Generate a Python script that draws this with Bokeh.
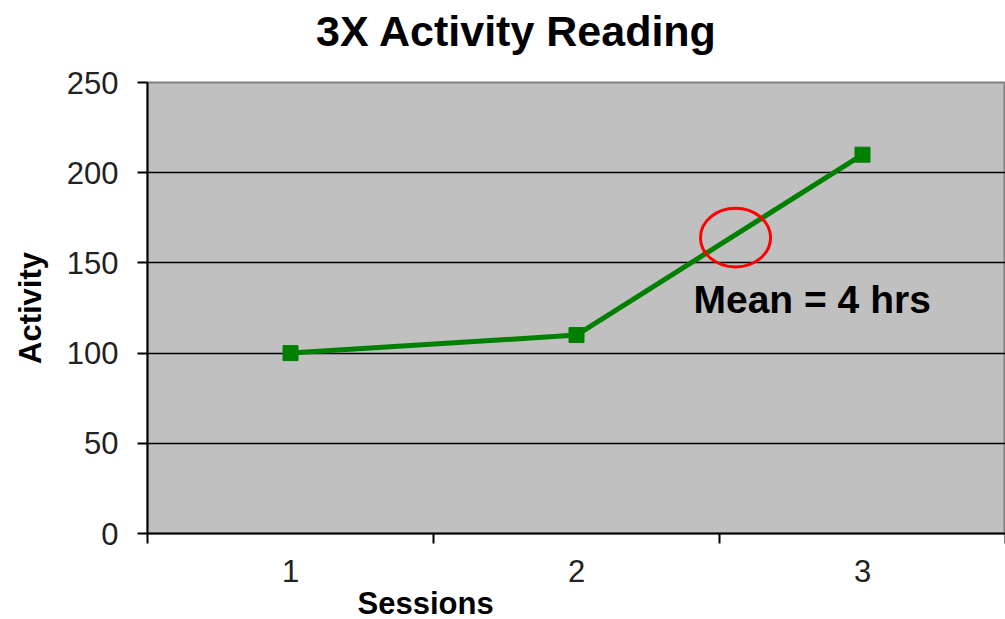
from bokeh.plotting import figure
from bokeh.models import Range1d, FixedTicker, Label, Title, LinearAxis
from bokeh.embed import file_html
from bokeh.resources import INLINE

# data
sessions = [1, 2, 3]
activity = [100, 110, 210]
y_ticks = [0, 50, 100, 150, 200, 250]
x_tick_labels = {1: "1", 2: "2", 3: "3"}
title_text = "3X Activity Reading"
x_label = "Sessions"
y_label = "Activity"
note_text = "Mean = 4 hrs"
note_pos = [2.409, 117.6]          # left/bottom of note, data units
circle_center = [2.556, 164.0]     # highlight ellipse centre, data units
circle_size = [0.245, 32.5]        # width (sessions), height (activity)

W, H = 1005, 619
FL, FB = 147, 536   # frame left / frame bottom in page pixels

p = figure(width=W, height=H, output_backend="svg", toolbar_location=None,
           title_location=None,
           x_range=Range1d(0.5, 3.5), y_range=Range1d(0, 250),
           min_border_left=FL, min_border_right=0,
           min_border_top=82, min_border_bottom=H - FB)

p.background_fill_color = "#C0C0C0"
p.border_fill_color = "white"
p.outline_line_color = "#808080"
p.outline_line_width = 2

# y axis
p.yaxis.ticker = FixedTicker(ticks=y_ticks)
p.yaxis.axis_line_color = "black"
p.yaxis.axis_line_width = 2
p.yaxis.major_tick_line_color = "black"
p.yaxis.major_tick_line_width = 2
p.yaxis.major_tick_out = 10
p.yaxis.major_tick_in = 0
p.yaxis.minor_tick_line_color = None
p.yaxis.major_label_text_font = "Liberation Sans"
p.yaxis.major_label_text_font_size = "31px"
p.yaxis.major_label_text_color = "#222222"
p.yaxis.major_label_standoff = 19
p.yaxis.axis_label = y_label
p.yaxis.axis_label_text_font = "Liberation Sans"
p.yaxis.axis_label_text_font_style = "bold"
p.yaxis.axis_label_text_font_size = "31px"
p.yaxis.axis_label_text_color = "black"
p.yaxis.axis_label_standoff = 16

# x axis: labels at categories, ticks between categories
p.xaxis.ticker = FixedTicker(ticks=sessions, minor_ticks=[0.5, 1.5, 2.5, 3.5])
p.xaxis.major_label_overrides = x_tick_labels
p.xaxis.axis_line_color = "black"
p.xaxis.axis_line_width = 2
p.xaxis.major_tick_out = 0
p.xaxis.major_tick_in = 0
p.xaxis.minor_tick_out = 10
p.xaxis.minor_tick_in = 0
p.xaxis.minor_tick_line_color = "black"
p.xaxis.minor_tick_line_width = 2
p.xaxis.major_label_text_font = "Liberation Sans"
p.xaxis.major_label_text_font_size = "31px"
p.xaxis.major_label_text_color = "#222222"
p.xaxis.major_label_standoff = 16

p.xgrid.grid_line_color = None
p.ygrid.grid_line_color = "black"
p.ygrid.grid_line_width = 1.5

# series
p.line(sessions, activity, line_color="#008000", line_width=5)
p.scatter(sessions, activity, marker="square", size=15,
          fill_color="#008000", line_color="#008000")

# highlight
p.ellipse(x=[circle_center[0]], y=[circle_center[1]],
          width=[circle_size[0]], height=[circle_size[1]],
          fill_color=None, line_color="#FF0000", line_width=3)

p.add_layout(Label(x=note_pos[0], y=note_pos[1], text=note_text,
                   text_font="Liberation Sans", text_font_style="bold",
                   text_font_size="39px", text_color="black"))

# chart title drawn as the label of a bare axis above the frame;
# trailing no-break spaces shift it left of the frame centre as in the original
top_axis = LinearAxis(ticker=FixedTicker(ticks=[]),
                      axis_label=title_text + "\u00a0" * 10,
                      axis_line_color=None, major_tick_line_color=None,
                      minor_tick_line_color=None,
                      major_label_text_font_size="0px",
                      axis_label_standoff=28,
                      axis_label_text_font="Liberation Sans",
                      axis_label_text_font_style="bold",
                      axis_label_text_font_size="43px",
                      axis_label_text_color="black")
p.add_layout(top_axis, "above")

# x-axis title, off-centre as in the original
p.add_layout(Title(text=x_label, align="left", offset=210, standoff=-2,
                   text_font="Liberation Sans", text_font_style="bold",
                   text_font_size="31px", text_color="black"), "below")

open("out.html", "w").write(file_html(p, INLINE))
